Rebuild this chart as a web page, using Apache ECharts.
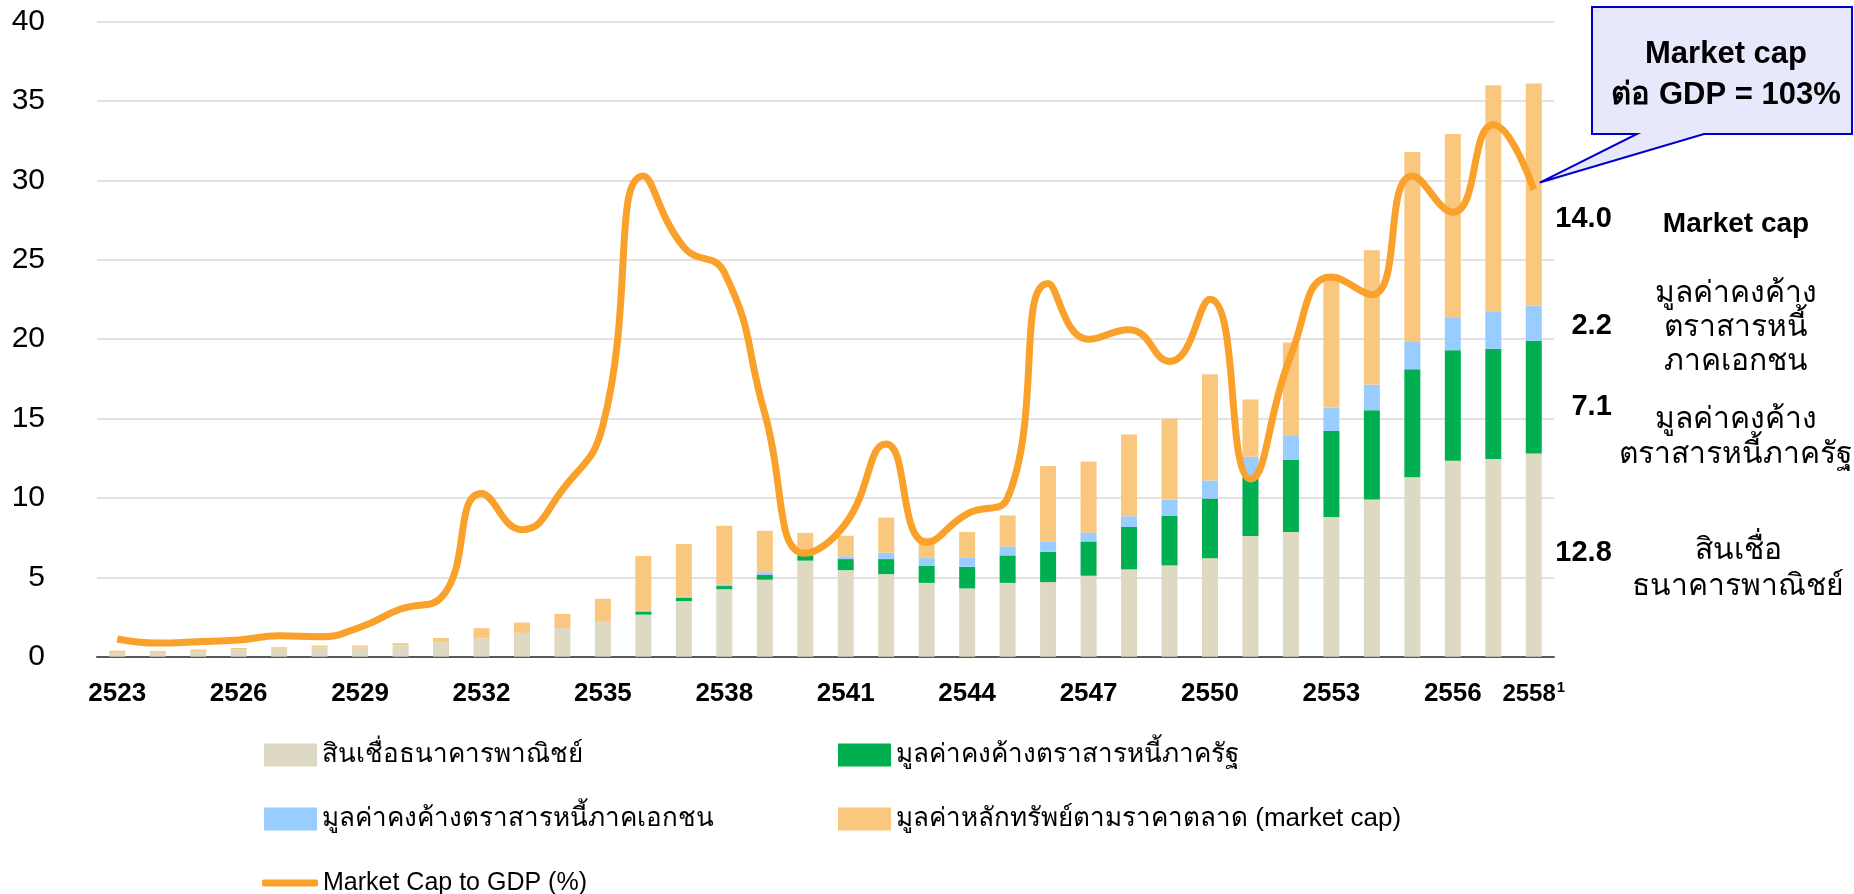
<!DOCTYPE html>
<html>
<head>
<meta charset="utf-8">
<title>Market cap to GDP</title>
<script src="https://cdn.jsdelivr.net/npm/echarts@6/dist/echarts.min.js"></script>
<style>
  html, body { margin: 0; padding: 0; background: #fff; }
  #main { width: 1854px; height: 894px; }
</style>
</head>
<body>
<div id="main"></div>
<script>
var years = ['2523', '2524', '2525', '2526', '2527', '2528', '2529', '2530', '2531', '2532', '2533', '2534',
  '2535', '2536', '2537', '2538', '2539', '2540', '2541', '2542', '2543', '2544', '2545', '2546',
  '2547', '2548', '2549', '2550', '2551', '2552', '2553', '2554', '2555', '2556', '2557', '2558'];

// stacked components, left axis
var loans = [0.25, 0.25, 0.35, 0.45, 0.5, 0.6, 0.6, 0.7, 0.9, 1.15, 1.5, 1.8,
  2.2, 2.65, 3.5, 4.25, 4.85, 6.05, 5.45, 5.2, 4.65, 4.3, 4.65, 4.7,
  5.1, 5.5, 5.75, 6.2, 7.6, 7.85, 8.8, 9.9, 11.3, 12.35, 12.45, 12.8];
var govBonds = [0, 0, 0, 0, 0, 0, 0, 0, 0, 0, 0, 0,
  0, 0.2, 0.2, 0.2, 0.3, 0.32, 0.7, 0.95, 1.08, 1.36, 1.73, 1.91,
  2.16, 2.67, 3.12, 3.76, 3.8, 4.55, 5.42, 5.63, 6.81, 6.96, 6.94, 7.1];
var corpBonds = [0, 0, 0, 0, 0, 0, 0, 0, 0, 0, 0, 0,
  0, 0.05, 0.08, 0.1, 0.17, 0.21, 0.17, 0.4, 0.48, 0.57, 0.57, 0.65,
  0.57, 0.68, 1.03, 1.14, 1.2, 1.5, 1.47, 1.61, 1.72, 2.03, 2.33, 2.2];
var marketCap = [0.13, 0.1, 0.1, 0.1, 0.1, 0.1, 0.1, 0.15, 0.28, 0.65, 0.65, 0.9,
  1.45, 3.45, 3.32, 3.7, 2.61, 1.22, 1.3, 2.21, 1.29, 1.62, 1.95, 4.76,
  4.47, 5.15, 5.1, 6.7, 3.6, 5.9, 8.39, 8.47, 11.96, 11.58, 14.27, 14.0];

// market cap to GDP (%), hidden right axis
var capToGdp = [3.9, 3.0, 3.3, 3.7, 4.6, 4.4, 6.5, 10.5, 13, 36, 28, 36.8,
  51, 106, 90.3, 84.7, 53.6, 22.8, 29.4, 46.9, 25.2, 31.5, 35, 82.3,
  70, 72.1, 65.1, 78.8, 39.2, 66.5, 83.7, 79.8, 106, 98, 117.3, 103];

var names = ['สินเชื่อธนาคารพาณิชย์', 'มูลค่าคงค้างตราสารหนี้ภาครัฐ',
  'มูลค่าคงค้างตราสารหนี้ภาคเอกชน', 'มูลค่าหลักทรัพย์ตามราคาตลาด (market cap)',
  'Market Cap to GDP (%)'];
var colors = ['#ddd9c3', '#00b050', '#99ccff', '#fac77f', '#f9a12b'];

var FONT = '"Liberation Sans", Arial, sans-serif';
var last = years.length - 1;

// put a value label to the right of the last bar only
function withEndLabel(arr, dy) {
  return arr.map(function (v, i) {
    if (i !== last) return v;
    return {
      value: v,
      label: {
        show: true, position: 'right', distance: 70, align: 'right', offset: [0, dy],
        formatter: v.toFixed(1), fontFamily: FONT, fontWeight: 'bold', fontSize: 29, color: '#000'
      }
    };
  });
}

function barSeries(idx, arr, dy) {
  return {
    name: names[idx], type: 'bar', stack: 'total', barWidth: 16,
    itemStyle: { color: colors[idx] },
    data: withEndLabel(arr, dy)
  };
}

function legendAt(idx, left, top, isLine) {
  return {
    data: [{ name: names[idx], icon: isLine ? 'roundRect' : 'rect' }],
    left: left, top: top, padding: 0, selectedMode: false,
    itemWidth: isLine ? 56 : 53, itemHeight: isLine ? 7 : 23,
    textStyle: { fontFamily: FONT, fontSize: isLine ? 25 : 26, color: '#000', lineHeight: 30 }
  };
}

var chart = echarts.init(document.getElementById('main'));
chart.setOption({
  animation: false,
  grid: { left: 97, right: 300, top: 21.7, bottom: 237.3 },
  legend: [
    legendAt(0, 264, 740),
    legendAt(1, 838, 740),
    legendAt(2, 264, 804),
    legendAt(3, 838, 804),
    legendAt(4, 262, 868, true)
  ],
  xAxis: {
    type: 'category', data: years,
    axisLine: { lineStyle: { color: '#595959', width: 2 } },
    axisTick: { show: false },
    axisLabel: {
      interval: function (i) { return i % 3 === 0 || i === last; },
      margin: 24, fontFamily: FONT, fontWeight: 'bold', fontSize: 26, color: '#000',
      formatter: function (v, i) {
        return i === last ? '{a|' + v + '}{sup|1}' : v;
      },
      rich: {
        a: { fontFamily: FONT, fontWeight: 'bold', fontSize: 24, color: '#000' },
        sup: { fontFamily: FONT, fontWeight: 'bold', fontSize: 15, color: '#000', verticalAlign: 'top', padding: [0, 0, 12, 1] }
      }
    }
  },
  yAxis: [
    {
      type: 'value', min: 0, max: 40, interval: 5,
      axisLine: { show: false }, axisTick: { show: false },
      axisLabel: { margin: 52, fontFamily: FONT, fontSize: 30, color: '#000' },
      splitLine: { lineStyle: { color: '#d9d9d9', width: 1.5 } }
    },
    { type: 'value', min: 0, max: 140, show: false, splitLine: { show: false } }
  ],
  series: [
    barSeries(0, loans, -2),
    barSeries(1, govBonds, 10),
    barSeries(2, corpBonds, 3),
    barSeries(3, marketCap, 24),
    {
      name: names[4], type: 'line', yAxisIndex: 1, smooth: true, symbol: 'none', z: 5,
      lineStyle: { color: colors[4], width: 7 },
      itemStyle: { color: colors[4] },
      data: capToGdp
    }
  ]
});

// callout pointing at the last point of the line, plus the side notes
var tip = chart.convertToPixel({ seriesIndex: 4 }, [last, capToGdp[last]]);
tip = [tip[0] + 6, tip[1] - 7];
var boxL = 1592, boxR = 1852, boxT = 7, boxB = 134;

function note(text, x, y, bold, size, lh) {
  return {
    type: 'text', x: x, y: y, z: 10,
    style: {
      text: text, fill: '#000', align: 'center', verticalAlign: 'middle',
      font: (bold ? 'bold ' : '') + size + 'px ' + FONT, lineHeight: lh || size + 4
    }
  };
}

chart.setOption({
  graphic: [
    {
      type: 'polygon', z: 8,
      shape: { points: [[boxL, boxT], [boxR, boxT], [boxR, boxB], [1704, boxB], tip, [1637, boxB], [boxL, boxB]] },
      style: { fill: '#e8e8fc', stroke: '#0000cc', lineWidth: 2 }
    },
    note('Market cap', 1726, 54, true, 31),
    note('ต่อ GDP = ' + capToGdp[last] + '%', 1726, 95, true, 31),
    note('Market cap', 1736, 224, true, 28),
    note('มูลค่าคงค้าง\nตราสารหนี้\nภาคเอกชน', 1736, 328, false, 30, 34),
    note('มูลค่าคงค้าง\nตราสารหนี้ภาครัฐ', 1736, 437, false, 30, 35),
    note('สินเชื่อ\nธนาคารพาณิชย์', 1738, 569, false, 30, 36)
  ]
});
</script>
</body>
</html>
